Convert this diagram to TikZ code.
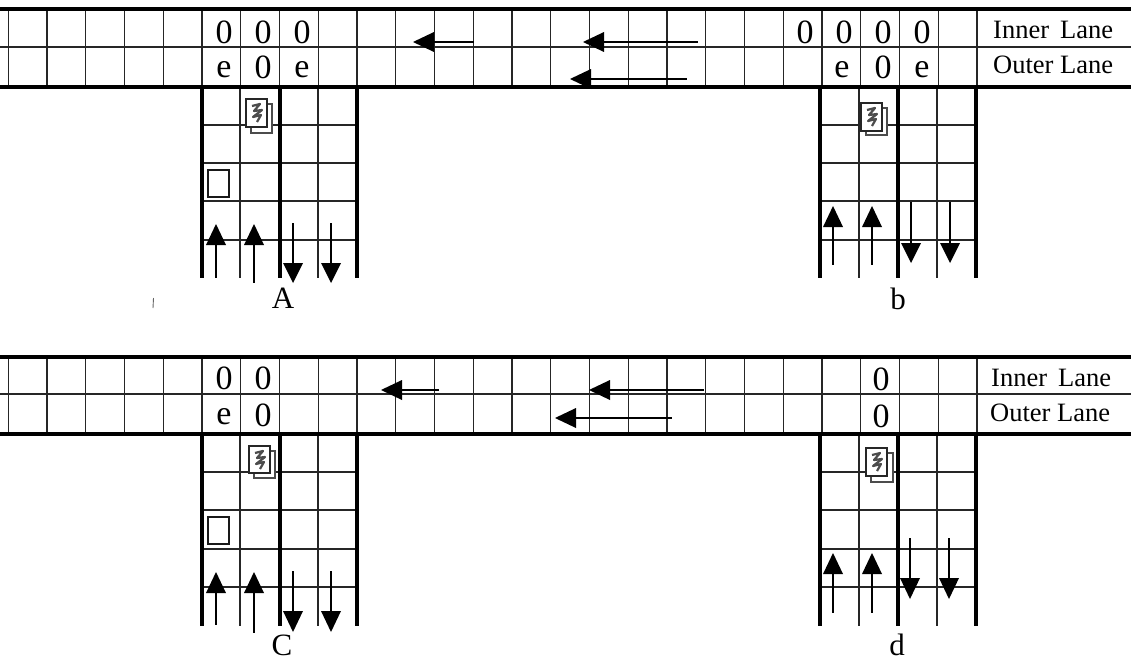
\documentclass[tikz,border=0pt]{standalone}
\usepackage{fontspec}
\setmainfont{Liberation Serif}
\newcommand{\stampicon}[7]{% x1,y1,x2,y2,backx,backy,name
  \draw[backrect] (#1+5,#2+5) rectangle (#5,#6);
  \node[frontrect,minimum width=#3-#1,minimum height=#4-#2] (#7) at ({(#1+#3)/2},{(#2+#4)/2}) {};
  \draw[scribble] ({#1+6},{#2+7}) -- ({#1+14},{#2+5}) -- ({#1+8},{#2+12}) -- ({#1+16},{#2+11}) -- ({#1+7},{#2+18}) -- ({#1+15},{#2+16}) -- ({#1+11},{#2+23});
}
\newcommand{\roadgrid}[8]{% top, mid, bot, h1,h2,h3,h4, roadbottom
  \foreach \k in {-5,...,20}{
    \pgfmathsetmacro{\vx}{202+38.75*\k}
    \draw[thinline] (\vx,#1) -- (\vx,#3);
  }
  \draw[thinline] (0,#2) -- (1131,#2);
  \foreach \yy in {#4,#5,#6,#7}{
    \draw[thinline] (202,\yy) -- (357,\yy);
    \draw[thinline] (820,\yy) -- (976,\yy);
  }
  \foreach \xx in {240,318,859,937}{
    \draw[thinline] (\xx,#3) -- (\xx,#8);
  }
  \foreach \xx in {202,280,357,820,898,976}{
    \draw[thickline] (\xx,#3) -- (\xx,#8);
  }
  \draw[thickline] (0,#1) -- (1131,#1);
  \draw[thickline] (0,#3) -- (1131,#3);
}
\newcommand{\harr}[4]{% tip x, base x, tail x, y
  \fill (#1,#4) -- (#2,#4-10) -- (#2,#4+10) -- cycle;
  \draw[shaft] (#2,#4) -- (#3,#4);
}
\newcommand{\uparr}[4]{% x, tip y, base y, tail y
  \fill (#1,#2) -- (#1-10,#3) -- (#1+10,#3) -- cycle;
  \draw[shaft] (#1,#3) -- (#1,#4);
}
\newcommand{\dnarr}[4]{% x, tail y, base y, tip y
  \draw[shaft] (#1,#2) -- (#1,#3);
  \fill (#1,#4) -- (#1-10,#3) -- (#1+10,#3) -- cycle;
}
\tikzset{
  x=1pt,y=-1pt,
  thinline/.style={line width=1.2pt,black!85},
  thickline/.style={line width=3.4pt,black},
  shaft/.style={line width=1.8pt,black},
  backrect/.style={line width=1.5pt,black!70,fill=white},
  frontrect/.style={draw=black!85,line width=2pt,fill=white,inner sep=0pt,outer sep=0pt},
  scribble/.style={line width=2.2pt,black!70,line join=round},
  boxrect/.style={draw=black!90,line width=2pt,fill=white,inner sep=0pt,outer sep=0pt,minimum width=21pt,minimum height=27pt},
  cell/.style={font=\fontsize{34}{34}\selectfont,inner sep=0pt,text=black},
  panel/.style={font=\fontsize{31}{31}\selectfont,inner sep=0pt,anchor=base},
  lane/.style={font=\fontsize{26.5}{26.5}\selectfont,inner sep=0pt,anchor=base west},
}
\begin{document}
\begin{tikzpicture}
\useasboundingbox (0,0) rectangle (1131,661);
\fill[white] (0,0) rectangle (1131,661);
\roadgrid{9}{47}{87}{125}{163}{201}{240}{278}
\roadgrid{357}{394}{434}{472}{510}{549}{587}{626}

% lane arrows
\harr{413}{434}{474}{42}
\harr{583}{604}{698}{42}
\harr{570}{591}{687}{79}
\harr{381}{402}{439}{390}
\harr{589}{610}{704}{390}
\harr{555}{576}{672}{418}

% approach arrows
\uparr{216}{224}{245}{278}
\uparr{254}{224}{245}{283}
\dnarr{293}{223}{263}{283}
\dnarr{331}{223}{263}{283}
\uparr{833}{206}{227}{265}
\uparr{872}{206}{227}{265}
\dnarr{911}{202}{243}{263}
\dnarr{950}{202}{243}{263}
\uparr{216}{572}{593}{625}
\uparr{254}{572}{593}{633}
\dnarr{293}{571}{611}{632}
\dnarr{331}{571}{611}{632}
\uparr{833}{553}{574}{613}
\uparr{872}{553}{574}{613}
\dnarr{910}{538}{578}{599}
\dnarr{949}{538}{578}{599}

% icons
\stampicon{246}{99}{267}{127}{272}{133}{stampA}
\stampicon{861}{103}{882}{131}{887}{135}{stampB}
\stampicon{249}{446}{270}{473}{275}{478}{stampC}
\stampicon{866}{448}{887}{476}{893}{482}{stampD}
\node[boxrect] (boxA) at (218.5,183.5) {};
\node[boxrect] (boxC) at (218.5,530.5) {};

% scan speck
\draw[line width=0.9pt,black!60] (153.5,298) -- (153,308);

% cell marks
\node[cell] (a1) at (224,32) {0};
\node[cell] (a2) at (263,32) {0};
\node[cell] (a3) at (302,32) {0};
\node[cell] (a4) at (224,70) {e};
\node[cell] (a5) at (263,67) {0};
\node[cell] (a6) at (302,70) {e};
\node[cell] (b1) at (805,32) {0};
\node[cell] (b2) at (844,32) {0};
\node[cell] (b3) at (883,32) {0};
\node[cell] (b4) at (922,32) {0};
\node[cell] (b5) at (842,70) {e};
\node[cell] (b6) at (883,67) {0};
\node[cell] (b7) at (922,70) {e};
\node[cell] (c1) at (224,378) {0};
\node[cell] (c2) at (263,378) {0};
\node[cell] (c3) at (224,417) {e};
\node[cell] (c4) at (263,415) {0};
\node[cell] (d1) at (881,379) {0};
\node[cell] (d2) at (881,416) {0};

% lane names
\node[lane] (innerT) at (993,38) {Inner\, Lane};
\node[lane] (outerT) at (993,74) {Outer Lane};
\node[lane] (innerB) at (991,386) {Inner\, Lane};
\node[lane] (outerB) at (990,421) {Outer Lane};

% panel letters
\node[panel] (labA) at (283,308) {A};
\node[panel] (labB) at (898,309) {b};
\node[panel] (labC) at (282,655) {C};
\node[panel] (labD) at (897,655) {d};
\end{tikzpicture}
\end{document}
